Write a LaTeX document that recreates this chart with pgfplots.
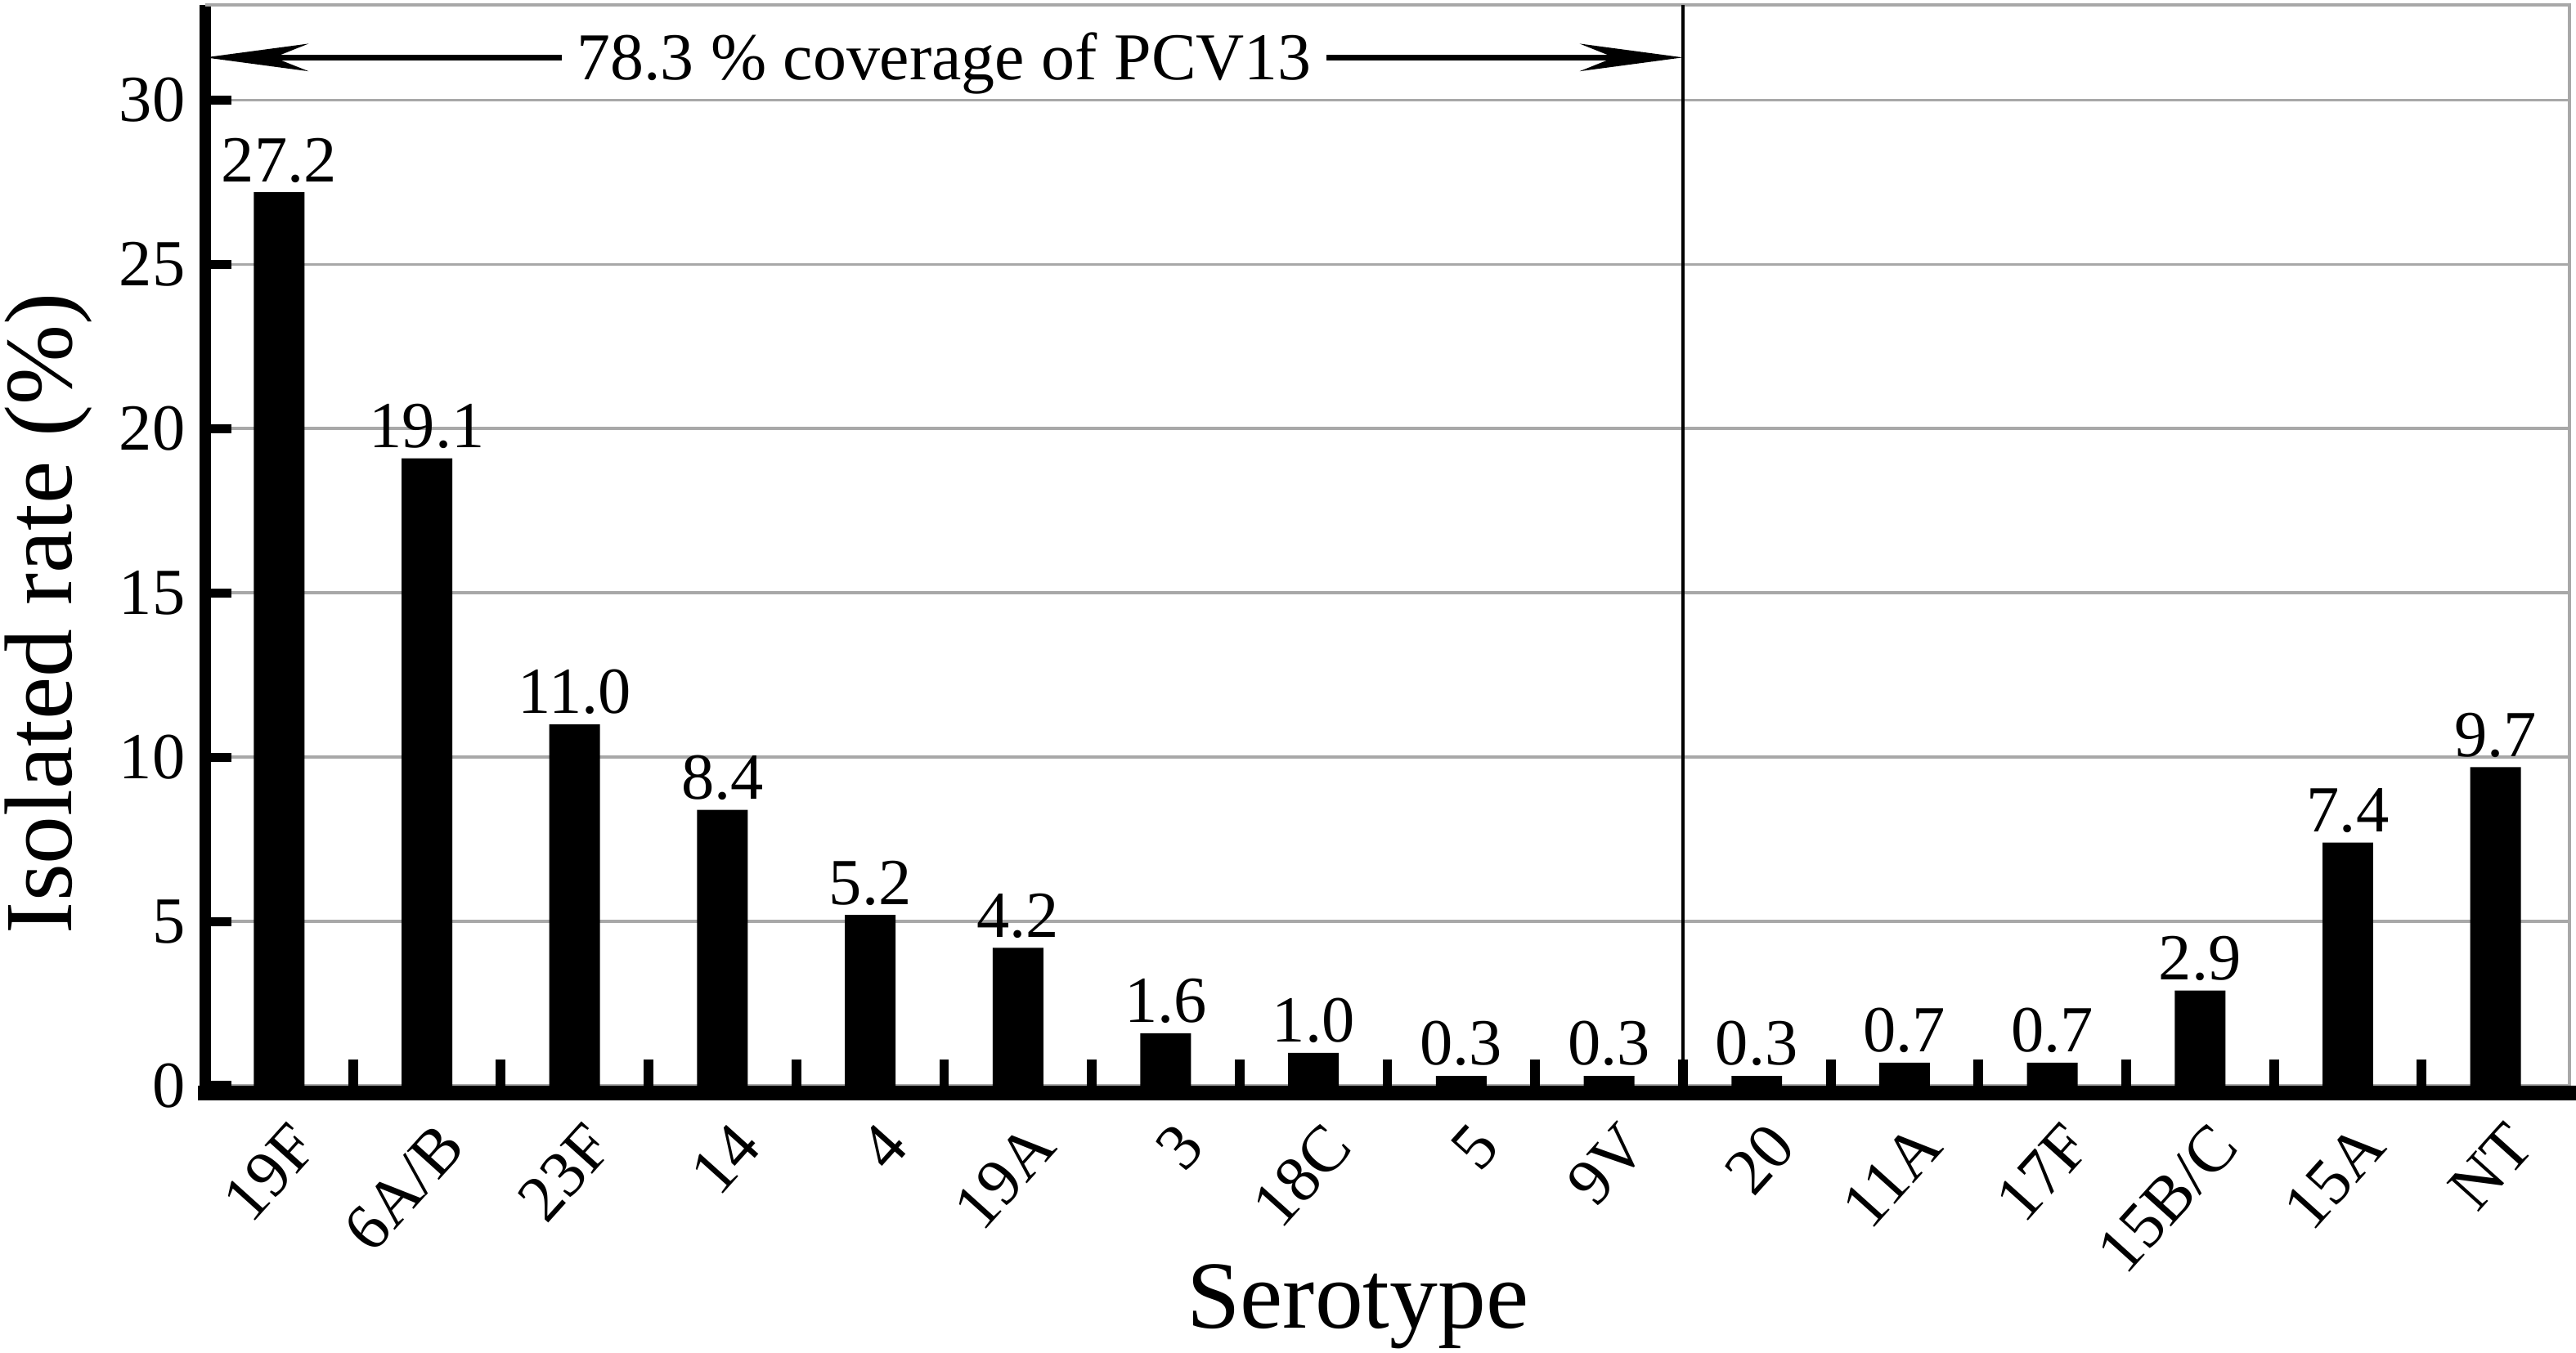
\documentclass[border=0pt]{standalone}
\usepackage{fontspec}
\setmainfont{Liberation Serif}
\usepackage{pgfplots}
\pgfplotsset{compat=1.18}
\usetikzlibrary{arrows.meta}
\definecolor{gridgray}{RGB}{168,168,168}
\newcommand{\tickfont}{\fontsize{11.5}{13}\selectfont}
\newcommand{\labfont}{\fontsize{16.8}{19}\selectfont}
\newcommand{\annfont}{\fontsize{11.7}{13}\selectfont}

\begin{document}
\begin{tikzpicture}
\begin{axis}[
  scale only axis,
  width=413pt, height=188.86pt,
  xmin=-0.5, xmax=15.5,
  ymin=0, ymax=32.9,
  clip=false,
  axis lines*=left,
  x axis line style={line width=2.6pt, yshift=-1.3pt, line cap=rect},
  y axis line style={line width=1.9pt},
  /pgf/number format/assume math mode=true,
  ytick={0,5,...,30},
  ymajorgrids,
  grid style={gridgray, line width=0.55pt},
  tick align=inside,
  major tick length=4.6pt,
  ytick style={line width=1.6pt, black},
  xtick={0.5,1.5,...,14.5},
  xticklabels={},
  xtick style={line width=1.7pt, black},
  extra x ticks={0,1,...,15},
  extra x tick labels={19F,6A/B,23F,14,4,19A,3,18C,5,9V,20,11A,17F,15B/C,15A,NT},
  extra x tick style={major tick length=0pt,
     tick label style={xshift=1.2pt, yshift=-1pt, rotate=48, anchor=north east}},
  tick label style={font=\tickfont},
  xlabel={Serotype},
  ylabel={Isolated rate (\%)},
  xlabel style={font=\labfont, at={(axis description cs:0.4875,-0.224)}, anchor=base},
  ylabel style={font=\labfont, at={(axis description cs:-0.0564,0.437)}, anchor=base},
  nodes near coords={\pgfmathprintnumber[fixed,fixed zerofill,precision=1,assume math mode=true]{\pgfplotspointmeta}},
  nodes near coords style={font=\tickfont, anchor=south, inner sep=1.5pt, text=black},
]
\addplot[ybar, bar width=0.343, fill=black, draw=none] coordinates {
  (0,27.2) (1,19.1) (2,11.0) (3,8.4) (4,5.2) (5,4.2) (6,1.6) (7,1.0)
  (8,0.3) (9,0.3) (10,0.3) (11,0.7) (12,0.7) (13,2.9) (14,7.4) (15,9.7)
};
% frame top and right
\draw[gridgray, line width=0.55pt] (rel axis cs:0,1) -- (rel axis cs:1,1) -- (rel axis cs:1,0);
% divider
\draw[black, line width=0.6pt] (axis cs:9.5,0) -- (axis cs:9.5,32.9);
% annotation
\coordinate (A) at (axis cs:4.5,31.3);
\node[font=\annfont, anchor=base, inner sep=2.4pt, yshift=-3.95pt] (t) at (A) {78.3 \% coverage of PCV13};
\draw[line width=1pt, -{Stealth[length=18pt,width=4.8pt,inset=6pt]}] (t.west |- A) -- (axis cs:-0.5,31.3);
\draw[line width=1pt, -{Stealth[length=18pt,width=4.8pt,inset=6pt]}] (t.east |- A) -- (axis cs:9.5,31.3);
\end{axis}
\pgfresetboundingbox
\path ([shift={(-35.86pt,-46.57pt)}]current axis.south west) rectangle ([shift={(1.14pt,0.86pt)}]current axis.north east);
\end{tikzpicture}
\end{document}
